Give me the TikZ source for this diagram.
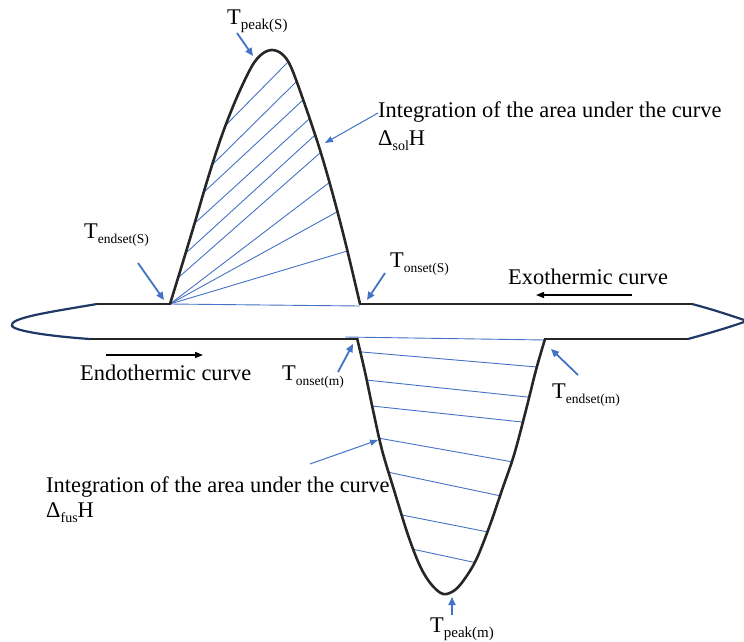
\documentclass[tikz,border=0pt]{standalone}
\usepackage{fontspec}
\setmainfont{Liberation Serif}
\usetikzlibrary{arrows.meta}
\definecolor{hb}{HTML}{4472C4}
\definecolor{navy}{HTML}{1F3864}
\newcommand\sbx[2][13.5]{\raisebox{-5pt}{\fontsize{#1}{#1}\selectfont #2}}
\def\peakpts{(170,304) (182,265) (195,222) (208,178) (222,135) (237,97) (252,66) (262,54) (272,50) (282,54) (291,67) (305,105) (320,150) (333,195) (346,245) (360,304)}
\def\valpts{(357,338) (365,372) (373,410) (382,450) (394,490) (408,535) (420,566) (431,584) (443,594) (455,590) (466,577) (477,558) (490,525) (502,490) (514,455) (526,410) (536,370) (545,339)}
\begin{document}
\begin{tikzpicture}[x=1pt,y=-1pt,
 lbl/.style={anchor=base west,inner sep=0pt,font=\fontsize{22.4}{26}\selectfont},
 curvek/.style={line width=2.6pt,draw=black!85,line join=round},
 basek/.style={line width=2.6pt,draw=black!85},
 hatch/.style={draw=hb,line width=0.9pt,shorten <=-12pt,shorten >=-12pt},
 endc/.style={draw=navy,line width=2.2pt,line join=round},
 barrow/.style={draw=hb,line width=1.8pt,-{Triangle[length=8pt,width=7pt]}},
 thinarrow/.style={draw=hb,line width=1pt,-{Triangle[length=8pt,width=6pt]}},
 karrow/.style={draw=black,line width=1.5pt,-{Triangle[length=8pt,width=6pt]}}]
\useasboundingbox (0,0) rectangle (744,642);
\clip (0,0) rectangle (744,642);
% hatching of the upper peak
\begin{scope}
\clip plot[smooth,tension=0.55] coordinates {\peakpts} -- cycle;
\draw[hatch] (224,127) -- (287,63);
\draw[hatch] (210,167) -- (295,83);
\draw[hatch] (203,193) -- (303,100);
\draw[hatch] (195,223) -- (308,120);
\draw[hatch] (187,252) -- (314,136);
\draw[hatch] (179,277) -- (320,153);
\draw[hatch] (170,304) -- (330,182);
\draw[hatch] (170,304) -- (335,213);
\draw[hatch] (170,304) -- (344,252);
\end{scope}
\draw[draw=hb,line width=0.9pt] (170,304) -- (360,306);
% hatching of the lower valley
\begin{scope}
\clip plot[smooth,tension=0.55] coordinates {\valpts} -- cycle;
\draw[hatch] (362,352) -- (537,367);
\draw[hatch] (366,380) -- (527,397);
\draw[hatch] (372,406) -- (522,422);
\draw[hatch] (378,438) -- (513,462);
\draw[hatch] (392,473) -- (501,496);
\draw[hatch] (402,515) -- (488,532);
\draw[hatch] (412,549) -- (477,563);
\end{scope}
\draw[draw=hb,line width=0.9pt] (345,337) -- (545,340);
% curves and base lines
\draw[curvek] plot[smooth,tension=0.55] coordinates {\peakpts};
\draw[curvek] plot[smooth,tension=0.55] coordinates {\valpts};
\draw[basek] (97,304) -- (171,304);
\draw[basek] (359,304) -- (692,304);
\draw[basek] (90,339) -- (358,339);
\draw[basek] (544,339) -- (688,339);
% end curves
\draw[endc] (97,304) .. controls (50,312) and (8,318) .. (12,326) .. controls (16,332) and (60,337) .. (90,339);
\draw[endc] (692,304) .. controls (715,310) and (735,317) .. (747,321) .. controls (730,327) and (710,333) .. (688,339);
% labels
\node[lbl] (tpeaks) at (227,25) {T\sbx[15]{peak(S)}};
\node[lbl] (intS) at (378,117) {Integration of the area under the curve};
\node[lbl] (solH) at (378,145) {Δ\sbx[14]{sol}H};
\node[lbl] (tends) at (84,238) {T\sbx{endset(S)}};
\node[lbl] (tonss) at (390,267) {T\sbx{onset(S)}};
\node[lbl] (exo) at (508,284) {Exothermic curve};
\node[lbl] (endo) at (80,380) {Endothermic curve};
\node[lbl] (tonsm) at (282,380) {T\sbx{onset(m)}};
\node[lbl] (tendm) at (552,398) {T\sbx{endset(m)}};
\node[lbl] (intM) at (46,492) {Integration of the area under the curve};
\node[lbl] (fusH) at (46,517) {Δ\sbx[14]{fus}H};
\node[lbl] (tpeakm) at (430,632) {T\sbx[15]{peak(m)}};
% arrow coordinates
\coordinate (a1s) at (237,33); \coordinate (a1e) at (253,56);
\coordinate (a2s) at (378,113); \coordinate (a2e) at (325,143);
\coordinate (a3s) at (138,263); \coordinate (a3e) at (164,300);
\coordinate (a4s) at (385,273); \coordinate (a4e) at (367,300);
\coordinate (a5s) at (632,295); \coordinate (a5e) at (536,295);
\coordinate (a6s) at (106,355); \coordinate (a6e) at (203,355);
\coordinate (a7s) at (338,372); \coordinate (a7e) at (353,344);
\coordinate (a8s) at (578,375); \coordinate (a8e) at (551,349);
\coordinate (a9s) at (310,464); \coordinate (a9e) at (378,440);
\coordinate (a10s) at (452,615); \coordinate (a10e) at (452,597);
\draw[barrow] (a1s) -- (a1e);
\draw[thinarrow] (a2s) -- (a2e);
\draw[barrow] (a3s) -- (a3e);
\draw[barrow] (a4s) -- (a4e);
\draw[karrow] (a5s) -- (a5e);
\draw[karrow] (a6s) -- (a6e);
\draw[barrow] (a7s) -- (a7e);
\draw[barrow] (a8s) -- (a8e);
\draw[thinarrow] (a9s) -- (a9e);
\draw[barrow] (a10s) -- (a10e);
\end{tikzpicture}
\end{document}
